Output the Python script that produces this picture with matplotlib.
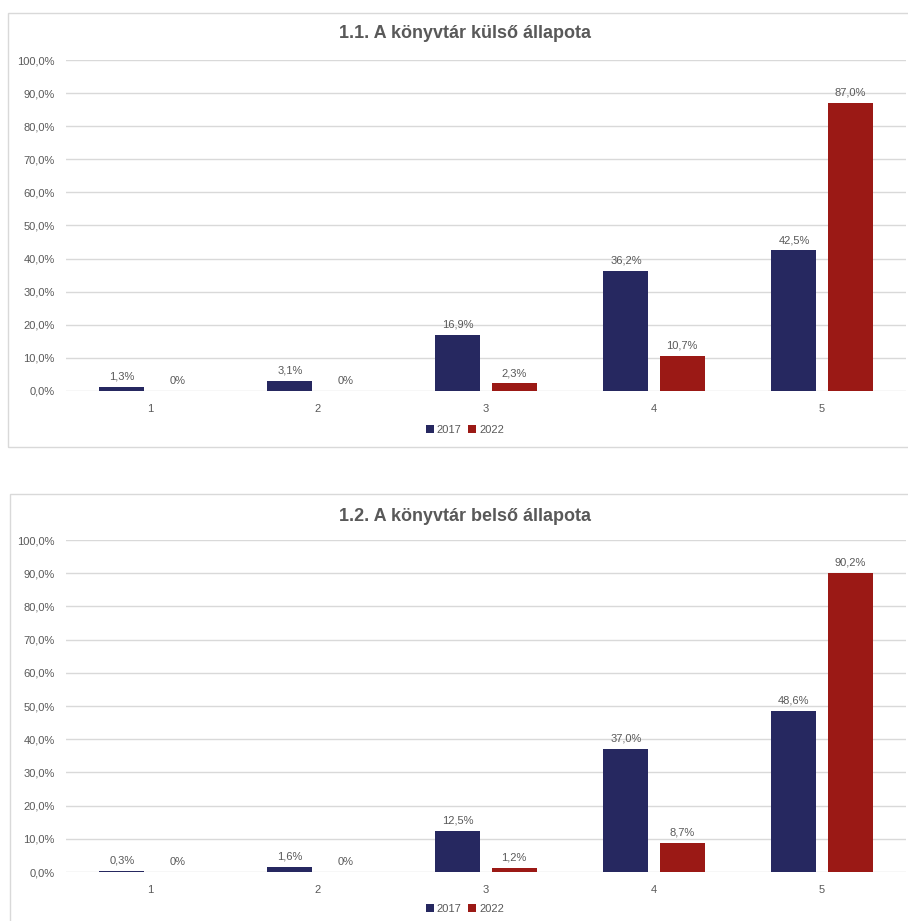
import matplotlib
matplotlib.use('Agg')
import matplotlib.pyplot as plt
from matplotlib.patches import Rectangle
import numpy as np

plt.rcParams['font.family'] = ['Liberation Sans', 'DejaVu Sans']

## data
categories = ['1', '2', '3', '4', '5']
series = ['2017', '2022']
ext_2017 = [1.3, 3.1, 16.9, 36.2, 42.5]
ext_2022 = [0.0, 0.0, 2.3, 10.7, 87.0]
int_2017 = [0.3, 1.6, 12.5, 37.0, 48.6]
int_2022 = [0.0, 0.0, 1.2, 8.7, 90.2]
titles = ['1.1. A könyvtár külső állapota', '1.2. A könyvtár belső állapota']
yticks = np.arange(0, 101, 10)

navy = '#262860'
red = '#9b1915'
grey = '#595959'
gridc = '#d9d9d9'

W, H = 908, 921
fig = plt.figure(figsize=(W/100., H/100.), dpi=100)

def fmt(v):
  if v == 0:
    return '0%'
  return ('%.1f%%' % v).replace('.', ',')

def panel(box, ax_px, title, title_y, d17, d22, leg_y):
  # box: (x0, y0 top, x1, y1 bottom) in pixels from top-left
  x0, y0, x1, y1 = box
  fig.patches.append(Rectangle((x0/W, 1-y1/H), (x1-x0)/W, (y1-y0)/H, transform=fig.transFigure,
                               fill=False, edgecolor='#d9d9d9', lw=1.0, zorder=0))
  l, t, r, b = ax_px
  ax = fig.add_axes([l/W, 1-b/H, (r-l)/W, (b-t)/H])
  x = np.arange(len(categories))
  bw = 0.268
  off = 0.167
  b1 = ax.bar(x-off, d17, bw, color=navy, label=series[0], zorder=3)
  b2 = ax.bar(x+off, d22, bw, color=red, label=series[1], zorder=3)
  for bars, vals in ((b1, d17), (b2, d22)):
    for rect, v in zip(bars, vals):
      ax.text(rect.get_x()+rect.get_width()/2., v+1.6, fmt(v), ha='center', va='bottom',
              fontsize=8, color=grey)
  ax.set_xlim(-0.5, len(categories)-0.5)
  ax.set_ylim(0, 100)
  ax.set_yticks(yticks)
  ax.set_yticklabels([('%.1f%%' % v).replace('.', ',') for v in yticks])
  ax.set_xticks(x)
  ax.set_xticklabels(categories)
  ax.tick_params(axis='both', length=0, labelsize=8, colors=grey)
  ax.tick_params(axis='x', pad=9)
  ax.tick_params(axis='y', pad=8)
  ax.grid(axis='y', color=gridc, lw=1.0, zorder=0)
  for s in ax.spines.values():
    s.set_visible(False)
  # title centred on the panel, not the axes
  fig.text(465./W, 1-title_y/H, title, ha='center', va='center', fontsize=13,
           fontweight='bold', color=grey)
  ax.legend(loc='center', bbox_to_anchor=(0.475, leg_y), ncol=2, frameon=False, fontsize=8,
            handlelength=0.7, handleheight=0.7, handletextpad=0.3, columnspacing=0.6,
            labelcolor=grey)
  return ax

panel((8, 13, 912, 447), (66, 60, 906, 391), titles[0], 33, ext_2017, ext_2022, -0.118)
panel((10, 494, 912, 930), (66, 540, 906, 872), titles[1], 516, int_2017, int_2022, -0.111)

fig.savefig('out.png', dpi=100)
